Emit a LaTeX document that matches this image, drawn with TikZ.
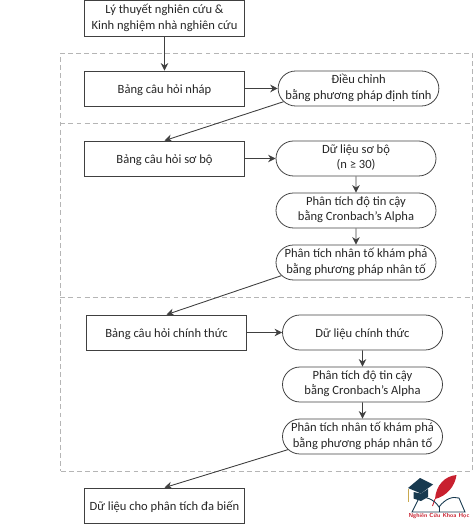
\documentclass[tikz,border=0pt]{standalone}
\usepackage{fontspec}
\setmainfont{Carlito}
\usetikzlibrary{arrows.meta,shapes.misc}
\definecolor{kline}{HTML}{404040}
\definecolor{kzoneline}{HTML}{B5B5B5}
\definecolor{ktext}{HTML}{262626}
\definecolor{kcap}{HTML}{17394F}
\definecolor{kred}{HTML}{C8202F}
\definecolor{kgold}{HTML}{C9A94F}
\tikzset{
  box/.style={draw=kline, line width=0.45pt, align=center, text=ktext, minimum width=3.2cm, minimum height=0.7cm, inner sep=0pt, font=\fontsize{7.15}{8.85}\selectfont, execute at begin node={\rule{0pt}{7.5pt}}, execute at end node={\rule[-2pt]{0pt}{2pt}}},
  ksquare/.style={box, rectangle},
  kround/.style={box, rounded rectangle},
  kzone/.style={draw=kzoneline, dash pattern=on 2.8pt off 1.8pt, line width=0.4pt},
  flow/.style={-{Stealth[length=1.5mm,width=1.5mm]}, draw=kline, line width=0.5pt},
}
\begin{document}
\begin{tikzpicture}
    \useasboundingbox (0,0) rectangle (9.48,-10.52);
    % dashed zones
    \node[kzone, minimum width=8.23cm, minimum height=8.36cm, inner sep=0pt] (zone) at (5.33,-5.24) {};
    \coordinate (draftend) at (0,-2.46);
    \coordinate (pilotend) at (0,-5.95);
    \draw[kzone] (zone.west |- draftend) -- (zone.east |- draftend);
    \draw[kzone] (zone.west |- pilotend) -- (zone.east |- pilotend);
    % boxes
    \node[ksquare, minimum height=0.72cm] (theory) at (3.29,-0.37) {Lý thuyết nghiên cứu \&\\Kinh nghiệm nhà nghiên cứu};
    \node[ksquare] (draft) at (3.29,-1.77) {Bảng câu hỏi nháp};
    \node[kround] (adjust) at (7.17,-1.77) {Điều chỉnh\\bằng phương pháp định tính};
    \node[ksquare] (pilot) at (3.29,-3.17) {Bảng câu hỏi sơ bộ};
    \node[kround] (pilotdata) at (7.12,-3.17) {Dữ liệu sơ bộ\\(n ≥ 30)};
    \node[kround] (pilotalpha) at (7.12,-4.21) {Phân tích độ tin cậy\\bằng Cronbach’s Alpha};
    \node[kround] (pilotefa) at (7.12,-5.25) {Phân tích nhân tố khám phá\\bằng phương pháp nhân tố};
    \node[ksquare] (final) at (3.33,-6.65) {Bảng câu hỏi chính thức};
    \node[kround] (finaldata) at (7.25,-6.65) {Dữ liệu chính thức};
    \node[kround] (finalalpha) at (7.25,-7.69) {Phân tích độ tin cậy\\bằng Cronbach’s Alpha};
    \node[kround] (finalefa) at (7.25,-8.73) {Phân tích nhân tố khám phá\\bằng phương pháp nhân tố};
    \node[ksquare] (multi) at (3.29,-10.11) {Dữ liệu cho phân tích đa biến};
    % connectors
    \draw[flow] (theory) -- (draft);
    \draw[flow] (draft) -- (adjust);
    \draw[flow] (adjust.190) -- (pilot.north);
    \draw[flow] (pilot) -- (pilotdata);
    \draw[flow] (pilotdata) -- (pilotalpha);
    \draw[flow] (pilotalpha) -- (pilotefa);
    \draw[flow] (pilotefa.190) -- (final.north);
    \draw[flow] (final) -- (finaldata);
    \draw[flow] (finaldata) -- (finalalpha);
    \draw[flow] (finalalpha) -- (finalefa);
    \draw[flow] (finalefa.190) -- (multi.north);
    % logo
    \fill[kcap] (8.16,-9.76) -- (8.40,-9.56) -- (8.66,-9.69) -- (8.42,-9.87) -- cycle;
    \fill[kcap] (8.27,-9.84) -- (8.27,-9.97) -- (8.42,-10.02) -- (8.56,-9.94) -- (8.56,-9.78) -- (8.42,-9.87) -- cycle;
    \draw[kgold, line width=0.8pt] (8.17,-9.77) -- (8.17,-10.03);
    \fill[kred] (8.70,-9.98) .. controls (8.72,-9.70) and (8.90,-9.52) .. (9.13,-9.50) .. controls (9.10,-9.72) and (8.94,-9.92) .. (8.70,-9.98) -- cycle;
    \draw[kred, line width=0.5pt] (8.70,-9.98) -- (8.65,-10.12);
    \draw[kcap, line width=0.5pt] (8.78,-10.24) -- (8.24,-10.24) -- (8.38,-9.96) .. controls (8.50,-9.92) and (8.68,-9.98) .. (8.78,-10.14) .. controls (8.90,-9.98) and (9.05,-9.92) .. (9.18,-9.96) -- (9.30,-10.24) -- (8.78,-10.24);
    \draw[kcap, line width=0.5pt] (8.78,-10.14) -- (8.78,-10.24);
    \node[font=\sffamily\bfseries\fontsize{3.3}{4}\selectfont, text=kred, inner sep=0pt] (logotext) at (8.78,-10.33) {Nghiên Cứu Khoa Học};
  \end{tikzpicture}
\end{document}
